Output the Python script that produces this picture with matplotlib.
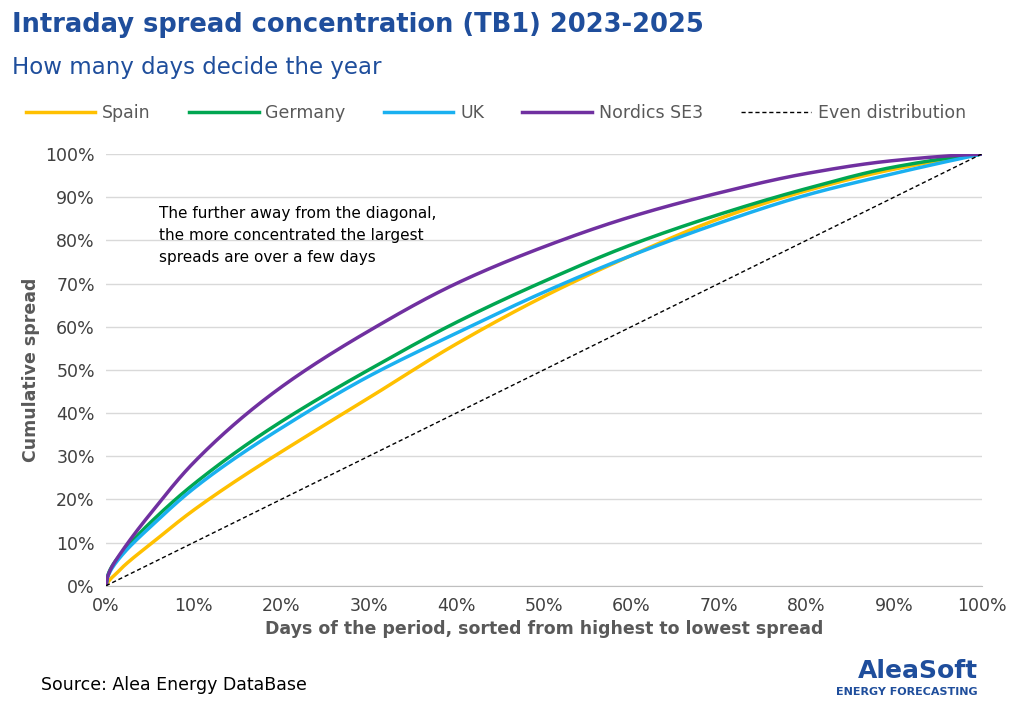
import matplotlib.pyplot as plt
from matplotlib.ticker import PercentFormatter
from scipy.interpolate import PchipInterpolator
import numpy as np

x_pct = [0, 1, 2, 5, 10, 20, 30, 40, 50, 60, 70, 80, 90, 100]
spain = [0, 2.5, 4.5, 9.5, 17.5, 31, 43.5, 56, 67, 76.5, 85, 91.5, 96.5, 100]
germany = [0, 5.5, 8, 14.5, 23.5, 38, 50, 61, 70.5, 79, 86, 92, 97, 100]
uk = [0, 5, 7.5, 13.5, 22.5, 36.5, 48.5, 58.5, 68, 76.5, 84, 90.5, 95.5, 100]
nordics = [0, 5.5, 8.5, 16.5, 28.5, 46, 59, 70, 78.5, 85.5, 91, 95.5, 98.5, 100]
even = [0, 100]

fig = plt.figure(figsize=(10.24, 7.10), dpi=100)
ax = fig.add_axes([0.1035, 0.175, 0.855, 0.608])
xs = np.linspace(0, 100, 600)
u = np.sqrt(x_pct)
for name, vals, col in [("Spain", spain, "#FFC000"), ("Germany", germany, "#00A651"),
                        ("UK", uk, "#1AB0F0"), ("Nordics SE3", nordics, "#7030A0")]:
    ax.plot(xs, PchipInterpolator(u, vals)(np.sqrt(xs)), color=col, lw=2.5, label=name)
ax.plot([0, 100], even, color="black", ls="--", lw=1, dashes=(3, 2), label="Even distribution")
ax.set_xlim(0, 100); ax.set_ylim(0, 100)
ax.set_xticks(range(0, 101, 10)); ax.set_yticks(range(0, 101, 10))
ax.xaxis.set_major_formatter(PercentFormatter(decimals=0))
ax.yaxis.set_major_formatter(PercentFormatter(decimals=0))
ax.grid(axis="y", color="#D9D9D9", lw=1)
for s in ["top", "right", "left"]:
    ax.spines[s].set_visible(False)
ax.spines["bottom"].set_color("#BFBFBF")
ax.tick_params(length=0, labelsize=12.5, colors="#404040", pad=8)
ax.set_xlabel("Days of the period, sorted from highest to lowest spread", fontsize=12.5,
              fontweight="bold", color="#595959")
ax.set_ylabel("Cumulative spread", fontsize=12.5, fontweight="bold", color="#595959")
ax.text(6, 88, "The further away from the diagonal,\nthe more concentrated the largest\nspreads are over a few days",
        fontsize=11, va="top", linespacing=1.6)
fig.legend(loc="upper left", bbox_to_anchor=(0.01, 0.875), ncol=5, frameon=False,
           fontsize=12.5, handlelength=4, columnspacing=2.2, labelcolor="#595959", handletextpad=0.4)
fig.text(0.012, 0.965, "Intraday spread concentration (TB1) 2023-2025", fontsize=18.5,
         fontweight="bold", color="#1F4E9C", va="center")
fig.text(0.012, 0.905, "How many days decide the year", fontsize=16.5, color="#1F4E9C", va="center")
fig.text(0.04, 0.035, "Source: Alea Energy DataBase", fontsize=12.5, va="center")
fig.text(0.955, 0.055, "AleaSoft", fontsize=18, fontweight="bold", color="#1F4E9C", ha="right", va="center")
fig.text(0.955, 0.025, "ENERGY FORECASTING", fontsize=8, fontweight="bold", color="#1F4E9C", ha="right", va="center")
fig.savefig("out.png")
